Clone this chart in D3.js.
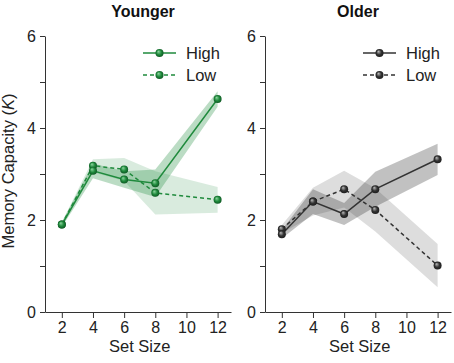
<!doctype html>
<html lang="en">
<head>
  <script src="https://d3js.org/d3.v7.min.js"></script>
  <style>
    body { margin: 0; background: #fff; }
    text { font-family: "Liberation Sans", Arial, sans-serif; }
  </style>
</head>
<body>
  <svg id="chart" width="454" height="363"></svg>
  <script>
    // set sizes shown on the x axis
    var setSizes = [2, 4, 6, 8, 12];
    var xTicks = [2, 4, 6, 8, 10, 12];
    var yTicks = [0, 1, 2, 3, 4, 5, 6];

    // Younger group: mean K and band half-width
    var youngHigh = [1.90, 3.07, 2.88, 2.80, 4.63];
    var youngHighErr = [0.05, 0.16, 0.18, 0.30, 0.17];
    var youngLow = [1.90, 3.18, 3.10, 2.59, 2.44];
    var youngLowErr = [0.05, 0.14, 0.25, 0.47, 0.28];

    // Older group
    var oldHigh = [1.69, 2.40, 2.13, 2.67, 3.32];
    var oldHighErr = [0.09, 0.27, 0.24, 0.38, 0.34];
    var oldLow = [1.80, 2.40, 2.67, 2.22, 1.01];
    var oldLowErr = [0.09, 0.30, 0.40, 0.47, 0.47];

    var panels = [
      { title: "Younger", left: 45, titleX: 143, color: "#1f8a3c", light: "#8fd6a0", dark: "#0c5220",
        high: youngHigh, highErr: youngHighErr, low: youngLow, lowErr: youngLowErr, yLabel: true },
      { title: "Older", left: 265, titleX: 358, color: "#333333", light: "#bdbdbd", dark: "#1a1a1a",
        high: oldHigh, highErr: oldHighErr, low: oldLow, lowErr: oldLowErr, yLabel: false }
    ];

    var plotTop = 36, plotBottom = 312, plotW = 186;
    var svg = d3.select("#chart");
    var defs = svg.append("defs");

    panels.forEach(function(p, pi) {
      var grad = defs.append("radialGradient")
        .attr("id", "ball" + pi)
        .attr("cx", "50%").attr("cy", "50%").attr("r", "55%")
        .attr("fx", "35%").attr("fy", "30%");
      grad.append("stop").attr("offset", "0%").attr("stop-color", p.light);
      grad.append("stop").attr("offset", "55%").attr("stop-color", p.color);
      grad.append("stop").attr("offset", "100%").attr("stop-color", p.dark);

      var x = d3.scaleLinear().domain([0.92, 12.86]).range([p.left, p.left + plotW]);
      var y = d3.scaleLinear().domain([0, 6]).range([plotBottom, plotTop]);

      var g = svg.append("g");

      var area = d3.area()
        .x(d => x(d.s))
        .y0(d => y(d.m - d.e))
        .y1(d => y(d.m + d.e));
      var line = d3.line()
        .x(d => x(d.s))
        .y(d => y(d.m));

      function rows(m, e) {
        return setSizes.map((s, i) => ({ s: s, m: m[i], e: e[i] }));
      }
      var lowRows = rows(p.low, p.lowErr);
      var highRows = rows(p.high, p.highErr);

      // bands
      g.append("path").datum(lowRows)
        .attr("d", area)
        .attr("fill", p.color).attr("fill-opacity", 0.17);
      g.append("path").datum(highRows)
        .attr("d", area)
        .attr("fill", p.color).attr("fill-opacity", 0.3);

      // lines
      g.append("path").datum(lowRows)
        .attr("d", line)
        .attr("fill", "none").attr("stroke", p.color)
        .attr("stroke-width", 1.5).attr("stroke-dasharray", "4,3");
      g.append("path").datum(highRows)
        .attr("d", line)
        .attr("fill", "none").attr("stroke", p.color)
        .attr("stroke-width", 1.5);

      // markers
      g.selectAll(".ml").data(lowRows).join("circle")
        .attr("cx", d => x(d.s)).attr("cy", d => y(d.m)).attr("r", 4)
        .attr("fill", "url(#ball" + pi + ")");
      g.selectAll(".mh").data(highRows).join("circle")
        .attr("cx", d => x(d.s)).attr("cy", d => y(d.m)).attr("r", 4)
        .attr("fill", "url(#ball" + pi + ")");

      // axes
      var xAxis = d3.axisBottom(x).tickValues(xTicks).tickSize(6).tickSizeOuter(0).tickPadding(4);
      var yAxis = d3.axisLeft(y).tickValues(yTicks).tickSize(5).tickSizeOuter(0).tickPadding(4)
        .tickFormat(d => d % 2 === 0 ? d : "");

      g.append("g")
        .attr("transform", `translate(0,${plotBottom})`)
        .call(xAxis)
        .call(a => a.selectAll("line,path").attr("stroke", "#333"))
        .call(a => a.selectAll("text").attr("font-size", 16).attr("fill", "#222")
          .attr("font-family", "Liberation Sans, Arial, sans-serif"));

      g.append("g")
        .attr("transform", `translate(${p.left},0)`)
        .call(yAxis)
        .call(a => a.selectAll("line,path").attr("stroke", "#333"))
        .call(a => a.selectAll("text").attr("font-size", 16).attr("fill", "#222")
          .attr("font-family", "Liberation Sans, Arial, sans-serif"));

      // title
      g.append("text")
        .attr("x", p.titleX).attr("y", 17)
        .attr("text-anchor", "middle")
        .attr("font-size", 16).attr("font-weight", "bold")
        .attr("fill", "#111")
        .text(p.title);

      // x label
      g.append("text")
        .attr("x", x(7)).attr("y", 352)
        .attr("text-anchor", "middle")
        .attr("font-size", 16.5).attr("fill", "#222")
        .text("Set Size");

      if (p.yLabel) {
        var yl = g.append("text")
          .attr("transform", `translate(13.5,171) rotate(-90)`)
          .attr("text-anchor", "middle")
          .attr("font-size", 16.5).attr("fill", "#222");
        yl.append("tspan").text("Memory Capacity (");
        yl.append("tspan").attr("font-style", "italic").text("K");
        yl.append("tspan").text(")");
      }

      // legend
      var lx = p.left + 98, ly = [53, 75], names = ["High", "Low"];
      names.forEach(function(n, i) {
        g.append("line")
          .attr("x1", lx).attr("x2", lx + 33)
          .attr("y1", ly[i]).attr("y2", ly[i])
          .attr("stroke", p.color).attr("stroke-width", 1.5)
          .attr("stroke-dasharray", i === 1 ? "4,3" : null);
        g.append("circle")
          .attr("cx", lx + 16.5).attr("cy", ly[i]).attr("r", 4)
          .attr("fill", "url(#ball" + pi + ")");
        g.append("text")
          .attr("x", lx + 43).attr("y", ly[i] + 6)
          .attr("font-size", 16.5).attr("fill", "#222")
          .text(n);
      });
    });
  </script>
</body>
</html>
